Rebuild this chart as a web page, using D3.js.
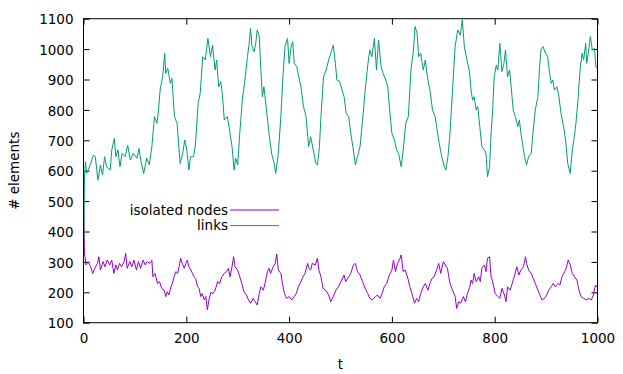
<!DOCTYPE html>
<html>
<head>
<meta charset="utf-8">
<script src="https://cdn.jsdelivr.net/npm/d3@7"></script>
<style>
    body { margin: 0; background: #fff; }
    text { font-family: "DejaVu Sans", sans-serif; font-size: 13.5px; fill: #000; }
</style>
</head>
<body>
<div id="grafica"></div>
<script>
"use strict";

// valores (t, numero de elementos)
const tLinks = [0, 1, 2, 4, 6, 13, 19, 23, 28, 33, 37, 41, 45, 52, 55, 60, 63, 67, 71, 75, 81, 86, 91, 97, 104, 108, 112, 117, 123, 128, 133, 138, 143, 146, 149, 154, 158, 160, 164, 169, 172, 177, 182, 185, 188, 193, 197, 201, 205, 208, 214, 218, 223, 227, 232, 237, 242, 247, 251, 256, 259, 263, 267, 270, 274, 280, 283, 289, 293, 296, 300, 304, 309, 314, 319, 322, 325, 328, 332, 335, 338, 342, 345, 348, 351, 356, 361, 366, 371, 374, 379, 384, 388, 392, 397, 400, 404, 407, 410, 415, 418, 423, 428, 433, 438, 442, 447, 452, 455, 459, 462, 467, 472, 477, 481, 486, 490, 493, 498, 503, 507, 511, 516, 520, 525, 529, 533, 538, 543, 548, 553, 557, 561, 566, 570, 574, 579, 583, 588, 592, 595, 600, 605, 609, 613, 618, 622, 627, 632, 637, 642, 645, 649, 652, 656, 661, 665, 670, 674, 679, 684, 689, 692, 697, 702, 705, 709, 713, 718, 723, 728, 733, 737, 741, 746, 751, 754, 757, 760, 764, 767, 771, 775, 780, 783, 786, 790, 793, 796, 799, 803, 806, 810, 814, 818, 821, 825, 829, 832, 836, 840, 845, 848, 851, 855, 858, 862, 866, 871, 875, 879, 884, 887, 890, 894, 899, 903, 906, 910, 913, 916, 921, 925, 929, 934, 938, 942, 947, 951, 955, 958, 962, 966, 970, 973, 977, 979, 983, 986, 990, 994, 997, 1000];
const links = [320, 450, 590, 630, 591, 619, 651, 646, 569, 619, 586, 646, 613, 602, 668, 706, 646, 668, 613, 657, 646, 684, 635, 657, 641, 673, 630, 591, 641, 619, 679, 778, 756, 800, 865, 909, 986, 920, 937, 887, 904, 778, 756, 690, 624, 657, 701, 668, 602, 646, 646, 690, 821, 854, 975, 964, 1035, 975, 1013, 931, 964, 876, 893, 854, 767, 778, 745, 679, 602, 641, 619, 723, 832, 898, 975, 1013, 1068, 1008, 991, 1019, 1063, 1041, 931, 843, 876, 800, 723, 657, 624, 591, 657, 778, 909, 1008, 1035, 953, 1008, 1024, 953, 942, 915, 876, 811, 778, 679, 712, 668, 624, 619, 679, 778, 909, 931, 964, 986, 1013, 953, 898, 895, 865, 843, 789, 778, 723, 668, 619, 646, 679, 767, 865, 947, 997, 975, 1035, 931, 1030, 942, 920, 898, 876, 811, 723, 701, 668, 657, 613, 668, 756, 778, 931, 997, 1074, 1052, 975, 986, 931, 964, 898, 865, 800, 778, 723, 690, 646, 613, 602, 646, 723, 865, 1008, 1063, 1046, 1096, 1008, 964, 925, 865, 832, 843, 800, 811, 745, 679, 668, 657, 580, 613, 723, 800, 909, 947, 931, 1019, 926, 953, 997, 909, 931, 876, 800, 778, 745, 767, 723, 679, 646, 619, 646, 657, 734, 800, 843, 931, 997, 1008, 986, 975, 931, 887, 898, 865, 876, 843, 789, 745, 701, 624, 591, 668, 712, 756, 832, 931, 986, 964, 1019, 953, 997, 1041, 997, 1002, 942, 935];

const tIsolated = [0, 1, 2, 3, 5, 9, 14, 18, 22, 27, 30, 33, 38, 42, 46, 51, 55, 59, 63, 66, 70, 74, 79, 82, 85, 90, 94, 98, 103, 107, 111, 116, 120, 124, 129, 133, 135, 139, 144, 148, 152, 157, 160, 163, 166, 170, 173, 176, 180, 183, 186, 189, 192, 196, 199, 202, 205, 209, 212, 215, 218, 222, 225, 228, 231, 235, 238, 241, 244, 248, 252, 256, 261, 265, 269, 274, 278, 282, 285, 289, 292, 295, 300, 304, 308, 312, 317, 321, 325, 330, 334, 338, 342, 345, 350, 353, 358, 361, 364, 369, 373, 376, 379, 384, 387, 391, 395, 400, 405, 410, 414, 418, 423, 427, 431, 436, 439, 442, 445, 451, 455, 458, 462, 466, 471, 477, 481, 486, 491, 496, 501, 507, 510, 516, 520, 525, 529, 533, 538, 543, 548, 553, 557, 562, 568, 572, 577, 581, 585, 590, 595, 600, 603, 607, 611, 616, 618, 622, 626, 631, 635, 639, 644, 648, 652, 656, 661, 665, 670, 674, 678, 682, 687, 691, 695, 700, 704, 708, 713, 718, 723, 726, 730, 734, 739, 743, 747, 751, 754, 757, 760, 764, 769, 772, 775, 780, 783, 786, 790, 793, 796, 801, 806, 810, 814, 819, 822, 825, 830, 834, 838, 843, 847, 851, 856, 860, 862, 866, 871, 875, 879, 884, 888, 892, 897, 901, 905, 910, 914, 918, 923, 927, 931, 936, 939, 943, 947, 951, 955, 960, 964, 968, 973, 978, 983, 988, 992, 996, 1000];
const isolated = [540, 420, 320, 317, 290, 301, 284, 262, 279, 295, 317, 273, 301, 284, 306, 290, 306, 262, 290, 273, 295, 284, 301, 328, 279, 301, 284, 306, 273, 301, 279, 306, 290, 301, 295, 306, 251, 262, 229, 235, 213, 207, 186, 202, 191, 218, 229, 251, 268, 262, 284, 312, 295, 279, 295, 306, 284, 273, 262, 251, 246, 218, 213, 186, 196, 175, 186, 142, 175, 200, 196, 207, 235, 229, 251, 262, 268, 279, 251, 284, 317, 284, 273, 251, 229, 202, 191, 175, 164, 180, 169, 158, 196, 218, 207, 229, 268, 279, 262, 284, 295, 326, 273, 262, 229, 196, 180, 186, 175, 186, 196, 218, 235, 251, 262, 295, 279, 273, 295, 290, 312, 273, 251, 213, 207, 191, 169, 186, 207, 218, 235, 257, 235, 251, 262, 290, 295, 268, 257, 235, 213, 196, 180, 175, 186, 191, 180, 196, 218, 229, 257, 273, 306, 268, 295, 312, 323, 268, 273, 246, 218, 196, 164, 180, 169, 196, 218, 229, 207, 229, 246, 251, 273, 295, 262, 301, 290, 279, 229, 207, 186, 147, 169, 164, 186, 169, 196, 215, 240, 229, 262, 235, 251, 235, 279, 290, 268, 312, 317, 251, 235, 196, 186, 180, 213, 191, 169, 218, 207, 229, 251, 284, 257, 273, 284, 317, 295, 273, 262, 246, 229, 207, 191, 175, 180, 191, 207, 218, 229, 218, 229, 224, 251, 268, 279, 306, 290, 262, 251, 240, 207, 186, 180, 175, 180, 175, 191, 224, 215];

const xTicks = [0, 200, 400, 600, 800, 1000];
const yTicks = [100, 200, 300, 400, 500, 600, 700, 800, 900, 1000, 1100];

const series = [
    { titulo: "isolated nodes", t: tIsolated, valor: isolated, color: "#9400d3" },
    { titulo: "links", t: tLinks, valor: links, color: "#009e73" }
];

const width = 623, height = 374;
const margin = { top: 18.7, right: 25.5, bottom: 51.3, left: 83.5 };
const w = width - margin.left - margin.right;
const h = height - margin.top - margin.bottom;

const svg = d3.select("#grafica").append("svg")
    .attr("width", width)
    .attr("height", height);

const x = d3.scaleLinear().domain([0, 1000]).range([0, w]);
const y = d3.scaleLinear().domain([100, 1100]).range([h, 0]);
const formato = d3.format("d");

const chart = svg.append("g")
    .attr("transform", "translate(" + margin.left + "," + margin.top + ")");

// ejes con ticks hacia adentro, espejados arriba y a la derecha
chart.append("g")
    .attr("transform", "translate(0," + h + ")")
    .call(d3.axisBottom(x).tickValues(xTicks).tickFormat(formato).tickSizeInner(-6).tickSizeOuter(0).tickPadding(11));
chart.append("g")
    .call(d3.axisTop(x).tickValues(xTicks).tickSizeInner(-6).tickSizeOuter(0).tickFormat(""));
chart.append("g")
    .attr("class", "eje-y")
    .call(d3.axisLeft(y).tickValues(yTicks).tickFormat(formato).tickSizeInner(-6).tickSizeOuter(0).tickPadding(10));
chart.append("g")
    .attr("transform", "translate(" + w + ",0)")
    .call(d3.axisRight(y).tickValues(yTicks).tickSizeInner(-6).tickSizeOuter(0).tickFormat(""));

chart.selectAll(".domain").remove();
chart.selectAll(".tick line").attr("stroke", "#000").attr("stroke-width", 1);
chart.selectAll(".tick text").attr("font-family", null).attr("font-size", null).attr("fill", "#000");
chart.select(".eje-y").selectAll(".tick text").attr("dy", "0.38em");

const linea = d3.line()
    .x((d) => x(d[0]))
    .y((d) => y(d[1]));

series.forEach(function (s) {
    const puntos = s.t.map((t, i) => [t, s.valor[i]]);
    chart.append("path")
        .datum(puntos)
        .attr("fill", "none")
        .attr("stroke", s.color)
        .attr("stroke-width", 1)
        .attr("stroke-linejoin", "round")
        .attr("d", linea);
});

// borde
chart.append("rect")
    .attr("x", 0).attr("y", 0)
    .attr("width", w).attr("height", h)
    .attr("fill", "none")
    .attr("stroke", "#000")
    .attr("stroke-width", 1);

// leyenda
const leyenda = svg.selectAll(".leyenda")
    .data(series)
    .enter().append("g")
    .attr("class", "leyenda")
    .attr("transform", (d, i) => "translate(0," + (210 + i * 15.6) + ")");
leyenda.append("text")
    .attr("x", 228)
    .attr("dy", "0.35em")
    .attr("text-anchor", "end")
    .text((d) => d.titulo);
leyenda.append("line")
    .attr("x1", 230).attr("x2", 279)
    .attr("stroke", (d) => d.color)
    .attr("stroke-width", 1);

// titulos de ejes
svg.append("text")
    .attr("x", margin.left + w / 2)
    .attr("y", 369)
    .attr("text-anchor", "middle")
    .text("t");
svg.append("text")
    .attr("transform", "translate(19," + (margin.top + h / 2) + ") rotate(-90)")
    .attr("text-anchor", "middle")
    .text("# elements");
</script>
</body>
</html>
